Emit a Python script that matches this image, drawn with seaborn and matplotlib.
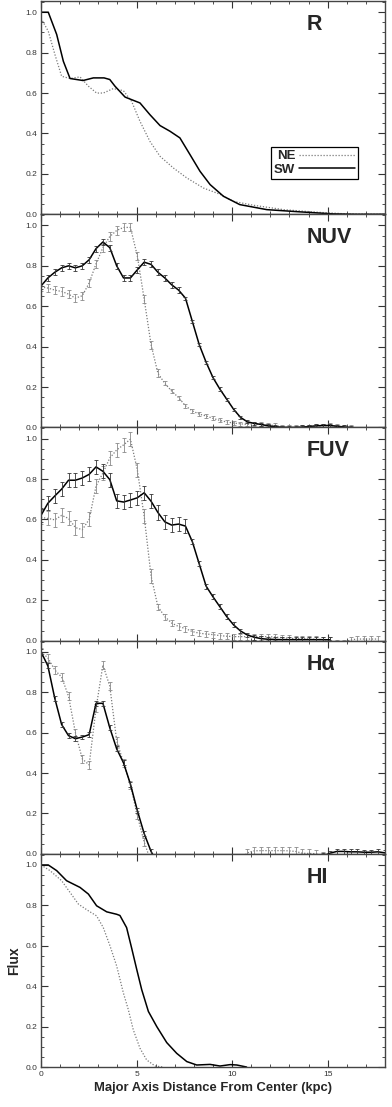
import numpy as np
import pandas as pd
import seaborn as sns
import matplotlib.pyplot as plt
from matplotlib.ticker import MultipleLocator

# sample positions (kpc) shared by the UV / Halpha profiles
dist = [0.0, 0.36, 0.72, 1.08, 1.44, 1.8, 2.16, 2.52, 2.88, 3.24, 3.6, 3.96,
        4.32, 4.68, 5.04, 5.4, 5.76, 6.12, 6.48, 6.84, 7.2, 7.56, 7.92, 8.28,
        8.64, 9.0, 9.36, 9.72, 10.08, 10.44, 10.8, 11.16, 11.52, 11.88, 12.24,
        12.6, 12.96, 13.32, 13.68, 14.04, 14.4, 14.76, 15.12, 15.48, 15.84,
        16.2, 16.56, 16.92, 17.28, 17.64, 18.0]

# R band
r_sw_x = [0.0, 0.38, 0.82, 1.17, 1.52, 2.2, 2.74, 3.3, 3.6, 3.87, 4.4, 5.18,
          5.7, 6.23, 6.75, 7.27, 7.8, 8.32, 8.85, 9.55, 10.4, 11.82, 13.56,
          15.3, 16.5, 18.0]
r_sw = [1.0, 1.0, 0.89, 0.757, 0.672, 0.662, 0.675, 0.675, 0.667, 0.634, 0.58,
        0.551, 0.493, 0.439, 0.411, 0.378, 0.295, 0.213, 0.147, 0.089, 0.048,
        0.023, 0.012, 0.002, 0.0, 0.0]
r_ne_x = [0.0, 0.38, 0.73, 1.08, 1.52, 2.04, 2.48, 2.91, 3.26, 3.78, 4.31,
          4.74, 5.18, 5.7, 6.23, 6.93, 7.63, 8.5, 9.37, 10.07, 11.1, 12.7,
          14.5, 16.0, 18.0]
r_ne = [0.97, 0.906, 0.79, 0.683, 0.672, 0.68, 0.634, 0.6, 0.6, 0.622, 0.612,
        0.559, 0.46, 0.361, 0.287, 0.229, 0.18, 0.13, 0.099, 0.064, 0.045,
        0.023, 0.01, 0.002, 0.0]

# NUV
nuv_sw = [0.70, 0.74, 0.768, 0.79, 0.80, 0.79, 0.80, 0.83, 0.885, 0.918, 0.89,
          0.80, 0.74, 0.74, 0.78, 0.818, 0.807, 0.768, 0.74, 0.706, 0.68, 0.64,
          0.525, 0.41, 0.323, 0.247, 0.19, 0.14, 0.09, 0.05, 0.028, 0.02, 0.015,
          0.008, 0.004, 0.001, 0.0, 0.0, 0.002, 0.005, 0.008, 0.01, 0.01,
          0.006, 0.003, 0.0]
nuv_sw_err = [0.015] * 21 + [0.008] * 25
nuv_ne = [0.695, 0.69, 0.68, 0.673, 0.66, 0.64, 0.652, 0.715, 0.81, 0.89,
          0.945, 0.975, 0.99, 0.99, 0.85, 0.635, 0.41, 0.268, 0.218, 0.18,
          0.148, 0.107, 0.082, 0.066, 0.057, 0.045, 0.035, 0.027, 0.022, 0.018,
          0.015, 0.018, 0.015, 0.012, 0.01, 0.004, 0.0, 0.0, 0.002, 0.004,
          0.006, 0.008, 0.01, 0.006, 0.002, 0.0]
nuv_ne_err = [0.02] * 18 + [0.01] * 28

# FUV
fuv_sw = [0.62, 0.68, 0.716, 0.75, 0.794, 0.794, 0.805, 0.823, 0.86, 0.838,
          0.797, 0.692, 0.686, 0.696, 0.707, 0.732, 0.69, 0.634, 0.588, 0.572,
          0.577, 0.567, 0.49, 0.38, 0.27, 0.217, 0.168, 0.119, 0.078, 0.048,
          0.028, 0.017, 0.01, 0.007, 0.006, 0.005, 0.005, 0.005, 0.005, 0.005,
          0.005, 0.005, 0.004]
fuv_sw_err = [0.035] * 22 + [0.012] * 21
fuv_ne = [0.61, 0.605, 0.598, 0.62, 0.605, 0.56, 0.549, 0.60, 0.765, 0.83,
          0.904, 0.944, 0.969, 0.997, 0.846, 0.615, 0.32, 0.168, 0.119, 0.087,
          0.07, 0.06, 0.045, 0.037, 0.033, 0.03, 0.025, 0.022, 0.02, 0.02,
          0.02, 0.02, 0.02, 0.02, 0.018, 0.015, 0.012, 0.01, 0.01, 0.008,
          0.006, 0.005, 0.003, -0.01, -0.01, 0.004, 0.008, 0.008, 0.008, 0.008]
fuv_ne_err = [0.035] * 17 + [0.015] * 33

# Halpha
ha_sw = [1.0, 0.93, 0.77, 0.64, 0.585, 0.57, 0.578, 0.59, 0.745, 0.745, 0.624,
         0.52, 0.45, 0.345, 0.215, 0.10, 0.012, -0.05, -0.04, -0.04, -0.04,
         -0.04, -0.04, -0.04, -0.04, -0.04, -0.04, -0.04, -0.04, -0.04, -0.04,
         -0.04, -0.04, -0.04, -0.04, -0.04, -0.04, -0.04, -0.04, -0.03, -0.02,
         -0.01, 0.003, 0.012, 0.012, 0.01, 0.01, 0.008, 0.008, 0.01, 0.005]
ha_sw_err = [0.012] * 51
ha_ne = [1.0, 0.97, 0.91, 0.875, 0.78, 0.60, 0.47, 0.44, 0.72, 0.935, 0.83,
         0.56, 0.45, 0.34, 0.19, 0.058, -0.04, -0.04, -0.04, -0.04, -0.04,
         -0.04, -0.04, -0.04, -0.04, -0.04, -0.04, -0.04, -0.04, -0.03, 0.005,
         0.015, 0.016, 0.016, 0.016, 0.016, 0.015, 0.012, 0.003, 0.002, 0.001,
         -0.01]
ha_ne_err = [0.02] * 42

# HI
hi_sw_x = [0.0, 0.38, 0.82, 1.34, 2.04, 2.48, 2.91, 3.44, 3.96, 4.13, 4.48,
           4.74, 5.01, 5.27, 5.62, 6.06, 6.58, 7.1, 7.63, 8.15, 8.85, 9.37,
           9.9, 10.25, 10.76]
hi_sw = [1.0, 1.0, 0.972, 0.922, 0.889, 0.856, 0.798, 0.768, 0.756, 0.75, 0.69,
         0.59, 0.483, 0.383, 0.275, 0.20, 0.121, 0.068, 0.027, 0.01, 0.013,
         0.005, 0.012, 0.01, 0.0]
hi_ne_x = [0.0, 0.47, 1.08, 1.52, 1.96, 2.48, 2.91, 3.26, 3.61, 3.96, 4.31,
           4.57, 4.83, 5.18, 5.53, 5.97, 6.4]
hi_ne = [1.0, 0.972, 0.922, 0.864, 0.806, 0.773, 0.748, 0.69, 0.60, 0.50,
         0.367, 0.284, 0.184, 0.093, 0.035, 0.005, 0.0]

SW_COLOR = "black"
NE_COLOR = "#7a7a7a"
NE_STYLE = (0, (1, 1.4))


def draw_profile(ax, x, y, err=None, ne=False):
    df = pd.DataFrame({"x": x, "y": y})
    color = NE_COLOR if ne else SW_COLOR
    sns.lineplot(df, x="x", y="y", ax=ax, color=color, sort=False,
                 errorbar=None, linewidth=0.9 if ne else 1.1,
                 linestyle=NE_STYLE if ne else "-")
    if err is not None:
        ax.errorbar(x, y, yerr=err, fmt="none",
                    ecolor="#8a8a8a" if ne else "#333333",
                    elinewidth=0.6, capsize=1.4, capthick=0.6)


sns.set_style("ticks")
plt.rcParams["font.family"] = ["Liberation Sans", "DejaVu Sans"]

fig, axes = plt.subplots(5, 1, figsize=(3.92, 11.07), dpi=100, sharex=True)
fig.subplots_adjust(left=0.1046, right=0.982, top=0.999, bottom=0.0361,
                    hspace=0)

panels = [
    ("R", [(r_ne_x, r_ne, None, True), (r_sw_x, r_sw, None, False)]),
    ("NUV", [(dist[:46], nuv_ne, nuv_ne_err, True),
             (dist[:46], nuv_sw, nuv_sw_err, False)]),
    ("FUV", [(dist[:50], fuv_ne, fuv_ne_err, True),
             (dist[:43], fuv_sw, fuv_sw_err, False)]),
    ("Hα", [(dist[:42], ha_ne, ha_ne_err, True),
            (dist, ha_sw, ha_sw_err, False)]),
    ("HI", [(hi_ne_x, hi_ne, None, True), (hi_sw_x, hi_sw, None, False)]),
]

for ax, (name, series) in zip(axes, panels):
    for x, y, err, ne in series:
        draw_profile(ax, x, y, err, ne)
    ax.set_xlim(0, 18)
    ax.set_ylim(0, 1.055)
    ax.xaxis.set_major_locator(MultipleLocator(5))
    ax.xaxis.set_minor_locator(MultipleLocator(1))
    ax.yaxis.set_minor_locator(MultipleLocator(0.05))
    ax.set_yticks([0, 0.2, 0.4, 0.6, 0.8, 1.0])
    ax.set_yticklabels(["0.0", "0.2", "0.4", "0.6", "0.8", "1.0"])
    ax.tick_params(which="both", direction="in", top=True, right=True,
                   colors="#333333", labelsize=6, pad=2.5)
    ax.tick_params(which="major", length=5, width=0.8)
    ax.tick_params(which="minor", length=2.5, width=0.6)
    for s in ax.spines.values():
        s.set_color("#444444")
        s.set_linewidth(1.0)
    ax.set_xlabel("")
    ax.set_ylabel("")
    ax.text(0.773, 0.89, name, transform=ax.transAxes, fontsize=15.5,
            fontweight="bold", ha="left", va="center")

# legend in the R panel
h = axes[0].get_lines()
leg = axes[0].legend([h[0], h[1]], ["NE", "SW"], loc="lower left",
                     bbox_to_anchor=(0.668, 0.165), markerfirst=False,
                     prop={"weight": "bold", "size": 9.5}, handlelength=4.2,
                     handletextpad=0.3, borderpad=0.25, labelspacing=0.1,
                     borderaxespad=0, fancybox=False, framealpha=1)
leg.get_frame().set_edgecolor("black")
leg.get_frame().set_linewidth(0.9)

axes[-1].set_xticks([0, 5, 10, 15])
axes[-1].set_xticklabels(["0", "5", "10", "15"])
axes[-1].set_xlabel("Major Axis Distance From Center (kpc)", fontsize=9.4,
                    fontweight="bold", labelpad=3)
axes[-1].set_ylabel("Flux", fontsize=10, fontweight="bold", labelpad=3)

plt.savefig("out.png", dpi=100)
